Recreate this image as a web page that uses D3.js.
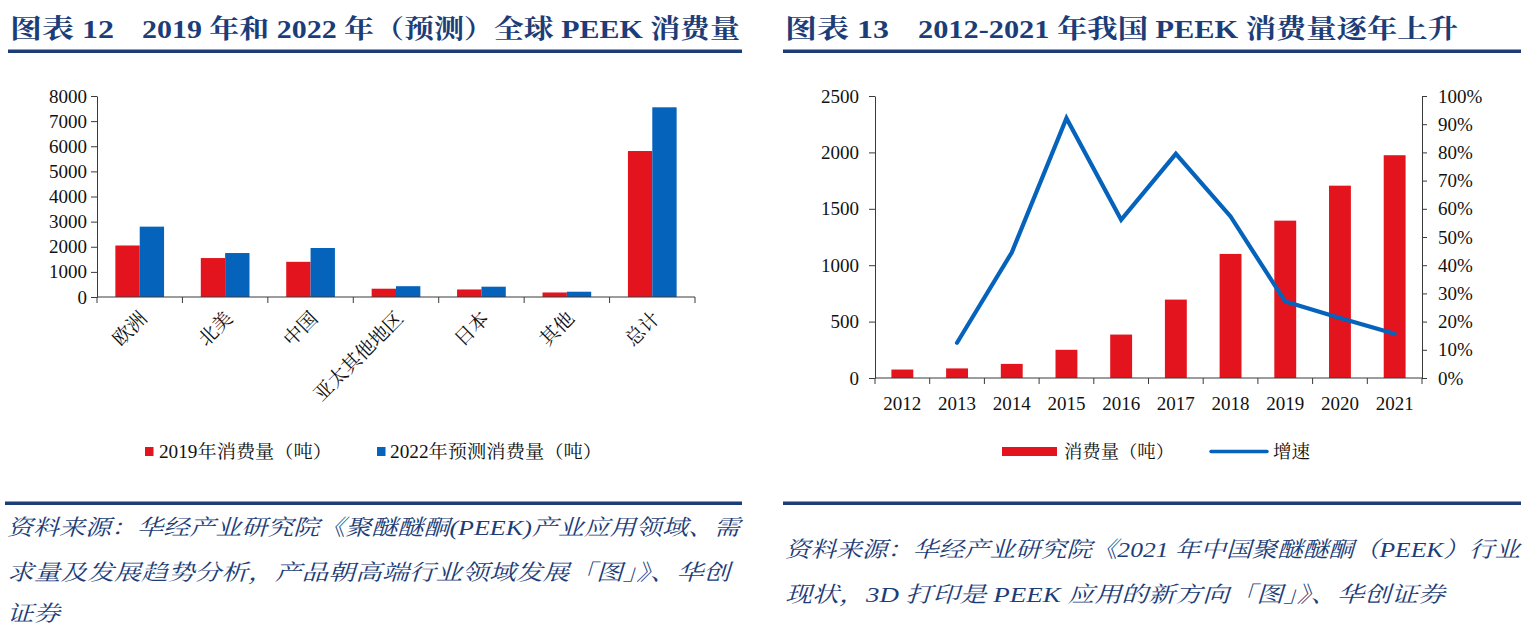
<!DOCTYPE html>
<html>
<head>
<meta charset="utf-8">
<script src="https://cdn.jsdelivr.net/npm/d3@7"></script>
<style>
  html, body { margin: 0; padding: 0; background: #fff; }
  svg { display: block; }
</style>
</head>
<body>
<svg id="chart" width="1536" height="635"></svg>
<script>
// ---------- DATA ----------
const regions = ["欧洲", "北美", "中国", "亚太其他地区", "日本", "其他", "总计"];
const cons2019 = [2050, 1550, 1400, 330, 300, 180, 5810];
const cons2022 = [2800, 1750, 1950, 430, 410, 210, 7550];
const leftTicks = [0, 1000, 2000, 3000, 4000, 5000, 6000, 7000, 8000];
const leftSeriesNames = ["2019年消费量（吨）", "2022年预测消费量（吨）"];

const years = ["2012", "2013", "2014", "2015", "2016", "2017", "2018", "2019", "2020", "2021"];
const chinaCons = [75, 85, 125, 250, 385, 695, 1100, 1395, 1705, 1975];
const growth = [null, 0.125, 0.445, 0.921, 0.561, 0.795, 0.573, 0.271, 0.213, 0.157];
const rightLeftTicks = [0, 500, 1000, 1500, 2000, 2500];
const rightPctTicks = [0, 0.1, 0.2, 0.3, 0.4, 0.5, 0.6, 0.7, 0.8, 0.9, 1.0];
const rightSeriesNames = ["消费量（吨）", "增速"];

const title1a = "图表 12", title1b = "2019 年和 2022 年（预测）全球 PEEK 消费量";
const title2a = "图表 13", title2b = "2012-2021 年我国 PEEK 消费量逐年上升";
const source1 = ["资料来源：华经产业研究院《聚醚醚酮(PEEK)产业应用领域、需",
                 "求量及发展趋势分析，产品朝高端行业领域发展「图」》、华创",
                 "证券"];
const source2 = ["资料来源：华经产业研究院《2021 年中国聚醚醚酮（PEEK）行业",
                 "现状，3D 打印是 PEEK 应用的新方向「图」》、华创证券"];

// ---------- STYLE ----------
const RED = "#E3141D", BLUE = "#0563BB", NAVY = "#1C3D78", AXIS = "#3a3a3a";
const FONT = "'Liberation Serif','Times New Roman','Noto Serif CJK SC','Noto Sans CJK SC',serif";
const svg = d3.select("#chart");

// ---------- HEADERS / FOOTERS ----------
function header(x, w, a, b, la, bx, lb) {
  const t = (tx, txt, tl) => svg.append("text").attr("x", tx).attr("y", 38)
    .attr("font-family", FONT).attr("font-weight", "bold").attr("font-size", 26)
    .attr("fill", NAVY).attr("textLength", tl).attr("lengthAdjust", "spacingAndGlyphs").text(txt);
  t(x + 2, a, la);
  t(bx, b, lb);
  svg.append("rect").attr("x", x).attr("y", 49.5).attr("width", w).attr("height", 3.5).attr("fill", NAVY);
}
header(8, 734, title1a, title1b, 104, 142, 598);
header(783, 738, title2a, title2b, 104, 918, 540);

svg.append("rect").attr("x", 5).attr("y", 501.5).attr("width", 737).attr("height", 3.5).attr("fill", NAVY);
svg.append("rect").attr("x", 783).attr("y", 501.5).attr("width", 738).attr("height", 3.5).attr("fill", NAVY);

function source(x, ys, lines, lens) {
  lines.forEach((t, i) => {
    const el = svg.append("text").attr("x", x).attr("y", ys[i])
      .attr("font-family", FONT).attr("font-style", "italic").attr("font-size", 22)
      .attr("fill", NAVY).text(t);
    if (lens[i]) el.attr("textLength", lens[i]).attr("lengthAdjust", "spacingAndGlyphs");
  });
}
source(7, [535, 580, 621], source1, [733, 723, 53]);
source(785, [557, 602], source2, [735, 660]);

// ---------- LEFT CHART ----------
{
  const x = d3.scaleBand().domain(regions).range([97, 695]).paddingInner(0.43).paddingOuter(0.215);
  const xs = d3.scaleBand().domain([0, 1]).range([0, x.bandwidth()]);
  const y = d3.scaleLinear().domain([0, 8000]).range([297, 96]);
  const g = svg.append("g");

  regions.forEach((r, i) => {
    [cons2019[i], cons2022[i]].forEach((v, k) => {
      g.append("rect").attr("x", x(r) + xs(k)).attr("y", y(v))
        .attr("width", xs.bandwidth()).attr("height", y(0) - y(v))
        .attr("fill", k === 0 ? RED : BLUE);
    });
  });

  const ya = g.append("g").attr("transform", "translate(97,0)")
    .call(d3.axisLeft(y).tickValues(leftTicks).tickSize(6).tickSizeOuter(0).tickPadding(4).tickFormat(d3.format("d")));
  ya.select(".domain").attr("stroke", AXIS);
  ya.selectAll(".tick line").attr("stroke", AXIS);
  ya.selectAll("text").attr("font-family", FONT).attr("font-size", 19).attr("fill", "#111");

  const step = x.step();
  const x0 = x(regions[0]) - step * x.paddingInner() / 2;
  g.append("line").attr("x1", 97).attr("x2", 695).attr("y1", y(0)).attr("y2", y(0)).attr("stroke", AXIS);
  d3.range(regions.length + 1).forEach(i => {
    const xx = x0 + i * step;
    g.append("line").attr("x1", xx).attr("x2", xx).attr("y1", y(0)).attr("y2", y(0) + 6).attr("stroke", AXIS);
  });
  regions.forEach(r => {
    const cx = x(r) + x.bandwidth() / 2;
    g.append("text").attr("transform", `translate(${cx + 4},${y(0) + 18}) rotate(-45)`)
      .attr("text-anchor", "end").attr("dominant-baseline", "central")
      .attr("font-family", FONT).attr("font-size", 19.5).attr("fill", "#111").text(r);
  });

  const lg = svg.append("g");
  [[145, 159, 173], [377, 390, 212]].forEach(([sx, tx, tl], k) => {
    lg.append("rect").attr("x", sx).attr("y", 447).attr("width", 8.5).attr("height", 9).attr("fill", k === 0 ? RED : BLUE);
    lg.append("text").attr("x", tx).attr("y", 458).attr("font-family", FONT).attr("font-size", 18)
      .attr("fill", "#111").attr("textLength", tl).attr("lengthAdjust", "spacingAndGlyphs").text(leftSeriesNames[k]);
  });
}

// ---------- RIGHT CHART ----------
{
  const x = d3.scaleBand().domain(years).range([875, 1422]).paddingInner(0.6).paddingOuter(0.3);
  const y = d3.scaleLinear().domain([0, 2500]).range([378, 96]);
  const y2 = d3.scaleLinear().domain([0, 1]).range([378, 96]);
  const g = svg.append("g");

  years.forEach((yr, i) => {
    g.append("rect").attr("x", x(yr)).attr("y", y(chinaCons[i]))
      .attr("width", x.bandwidth()).attr("height", y(0) - y(chinaCons[i])).attr("fill", RED);
  });

  const ya = g.append("g").attr("transform", "translate(875,0)")
    .call(d3.axisLeft(y).tickValues(rightLeftTicks).tickSize(6).tickSizeOuter(0).tickPadding(10).tickFormat(d3.format("d")));
  const yb = g.append("g").attr("transform", "translate(1422,0)")
    .call(d3.axisRight(y2).tickValues(rightPctTicks).tickSize(5).tickSizeOuter(0).tickPadding(11).tickFormat(d3.format(".0%")));
  [ya, yb].forEach(a => {
    a.select(".domain").attr("stroke", AXIS);
    a.selectAll(".tick line").attr("stroke", AXIS);
    a.selectAll("text").attr("font-family", FONT).attr("font-size", 19).attr("fill", "#111");
  });

  const step = x.step();
  const x0 = x(years[0]) - step * x.paddingInner() / 2;
  g.append("line").attr("x1", 875).attr("x2", 1422).attr("y1", y(0)).attr("y2", y(0)).attr("stroke", AXIS);
  d3.range(years.length + 1).forEach(i => {
    const xx = x0 + i * step;
    g.append("line").attr("x1", xx).attr("x2", xx).attr("y1", y(0)).attr("y2", y(0) + 6).attr("stroke", AXIS);
  });
  years.forEach(yr => {
    g.append("text").attr("x", x(yr) + x.bandwidth() / 2).attr("y", 410)
      .attr("text-anchor", "middle").attr("font-family", FONT).attr("font-size", 19).attr("fill", "#111").text(yr);
  });

  const pts = years.map((yr, i) => [x(yr) + x.bandwidth() / 2, growth[i]]).filter(p => p[1] !== null);
  g.append("path").datum(pts)
    .attr("d", d3.line().x(p => p[0]).y(p => y2(p[1])))
    .attr("fill", "none").attr("stroke", BLUE).attr("stroke-width", 4.2)
    .attr("stroke-linejoin", "miter").attr("stroke-linecap", "round");

  const lg = svg.append("g");
  lg.append("rect").attr("x", 1002).attr("y", 447).attr("width", 55).attr("height", 9).attr("fill", RED);
  lg.append("text").attr("x", 1064).attr("y", 458).attr("font-family", FONT).attr("font-size", 18)
    .attr("fill", "#111").attr("textLength", 110).attr("lengthAdjust", "spacingAndGlyphs").text(rightSeriesNames[0]);
  lg.append("line").attr("x1", 1211).attr("x2", 1267).attr("y1", 451.5).attr("y2", 451.5)
    .attr("stroke", BLUE).attr("stroke-width", 3.5).attr("stroke-linecap", "round");
  lg.append("text").attr("x", 1273).attr("y", 458).attr("font-family", FONT).attr("font-size", 18)
    .attr("fill", "#111").attr("textLength", 37).attr("lengthAdjust", "spacingAndGlyphs").text(rightSeriesNames[1]);
}
</script>
</body>
</html>
